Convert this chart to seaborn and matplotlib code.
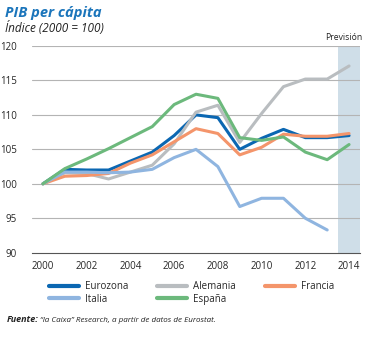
import numpy as np
import pandas as pd
import matplotlib
matplotlib.use("Agg")
import matplotlib.pyplot as plt
import seaborn as sns

years = list(range(2000, 2015))
eurozona = [100, 102.1, 102.0, 102.0, 103.3, 104.6, 107.0, 110.0, 109.6, 105.0, 106.6, 107.9, 106.7, 106.7, 107.0]
alemania = [100, 101.6, 101.5, 100.7, 101.7, 102.7, 105.8, 110.4, 111.4, 106.0, 110.2, 114.1, 115.2, 115.2, 117.1]
francia = [100, 101.1, 101.2, 101.5, 103.0, 104.2, 106.1, 108.0, 107.3, 104.2, 105.3, 107.2, 106.9, 106.9, 107.3]
italia = [100, 101.7, 101.7, 101.6, 101.7, 102.1, 103.8, 105.0, 102.5, 96.7, 97.9, 97.9, 95.0, 93.3, None]
espana = [100, 102.2, 103.6, 105.1, 106.7, 108.3, 111.5, 113.0, 112.4, 106.7, 106.3, 106.8, 104.6, 103.5, 105.7]
series_names = ["Eurozona", "Alemania", "Francia", "Italia", "España"]
colors = ["#0b67b2", "#b9bdc0", "#f4956b", "#8fb5e0", "#6cb97c"]
yticks = [90, 95, 100, 105, 110, 115, 120]
xtick_labels = [2000, 2002, 2004, 2006, 2008, 2010, 2012, 2014]

rows = []
for name, vals in zip(series_names, [eurozona, alemania, francia, italia, espana]):
    for y, v in zip(years, vals):
        if v is not None:
            rows.append({"year": y, "value": v, "serie": name})
df = pd.DataFrame(rows)

sns.set_style("white")
plt.rcParams["font.family"] = ["Open Sans", "DejaVu Sans"]

fig = plt.figure(figsize=(3.74, 3.38), dpi=100)
ax = fig.add_axes([32/374, 1 - 252.7/338, (360 - 32)/374, (252.7 - 46)/338])

ax.axvspan(2013.5, 2014.5, color="#cfdee8", zorder=0, lw=0)
for yv in [95, 100, 105, 110, 115, 120]:
    ax.axhline(yv, color="#b4b4b4", lw=0.8, zorder=1)

sns.lineplot(data=df, x="year", y="value", hue="serie", hue_order=series_names,
             palette=colors, lw=2.2, ax=ax, legend=True, zorder=3)

ax.set_xlim(1999.5, 2014.5)
ax.set_ylim(90, 120)
ax.set_yticks(yticks)
ax.set_yticklabels([str(v) for v in yticks], fontsize=7)
ax.tick_params(axis="y", length=0, pad=11)
ax.set_xticks(xtick_labels)
ax.set_xticklabels([str(v) for v in xtick_labels], fontsize=7)
ax.set_xticks(np.arange(1999.5, 2015, 1), minor=True)
ax.tick_params(axis="x", which="major", length=0, pad=6)
ax.tick_params(axis="x", which="minor", length=3, width=0.8, color="#555555", direction="out")
ax.set_xlabel("")
ax.set_ylabel("")
for s in ["top", "right", "left"]:
    ax.spines[s].set_visible(False)
ax.spines["bottom"].set_color("#555555")
ax.spines["bottom"].set_linewidth(0.8)

handles, labels = ax.get_legend_handles_labels()
order = [0, 3, 1, 4, 2]
leg = ax.legend([handles[i] for i in order], [labels[i] for i in order], ncol=3,
                loc="upper left", bbox_to_anchor=(0.024, -0.095), frameon=False,
                fontsize=7, handlelength=3.1, handletextpad=0.6, columnspacing=3.0,
                labelspacing=0.15)
for h in leg.get_lines():
    h.set_linewidth(3)

fig.text(5/374, 1 - 13/338, "PIB per cápita", fontsize=10.5, fontweight="bold",
         fontstyle="italic", color="#1b75bb", va="center")
fig.text(5/374, 1 - 28/338, "Índice (2000 = 100)", fontsize=8.5, fontstyle="italic",
         color="#222222", va="center")
fig.text(344/374, 1 - 37/338, "Previsión", fontsize=6.2, color="#222222",
         ha="center", va="center")
fig.text(7/374, 1 - 320/338, "Fuente:", fontsize=6.5, fontweight="bold",
         fontstyle="italic", color="#222222", va="center")
fig.text(40/374, 1 - 320/338, "“la Caixa” Research, a partir de datos de Eurostat.",
         fontsize=5.8, fontstyle="italic", color="#222222", va="center")

fig.savefig("out.png", dpi=100)
